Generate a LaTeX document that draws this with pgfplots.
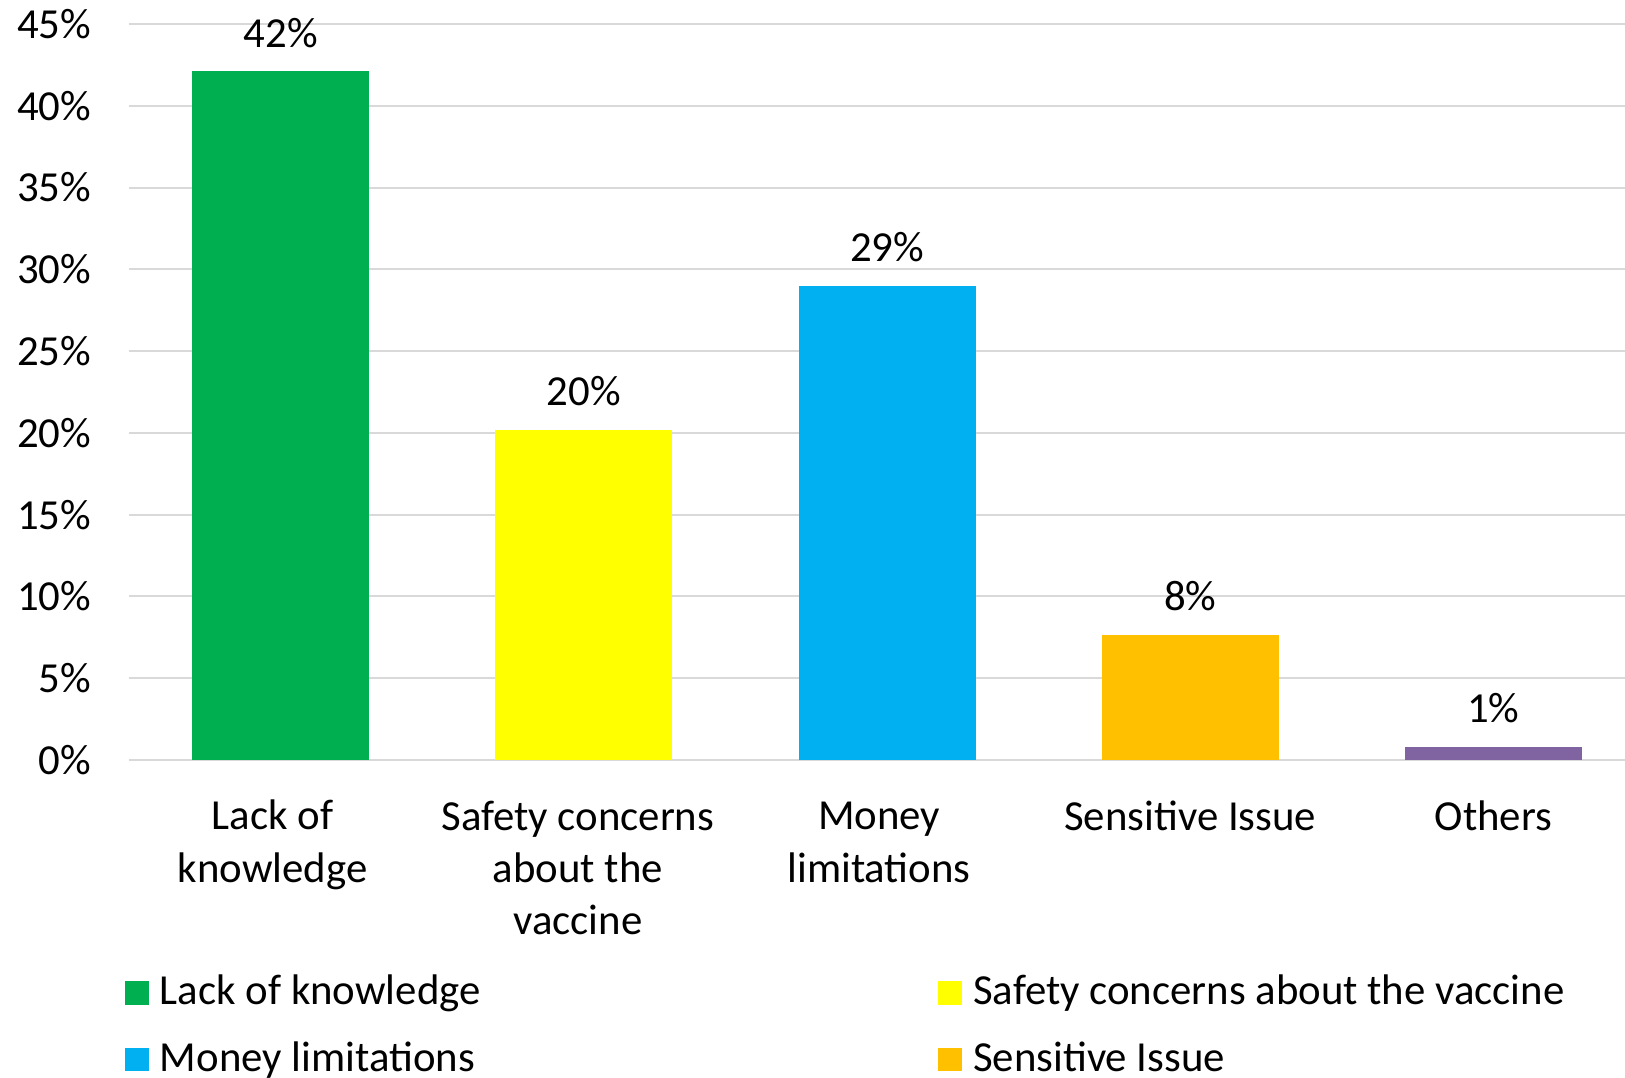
\documentclass[border=0pt]{standalone}
\usepackage{fontspec}
\setmainfont{Carlito}
\usepackage{pgfplots}
\pgfplotsset{compat=1.18}
\definecolor{cgreen}{HTML}{00B050}
\definecolor{cyellow}{HTML}{FFFF00}
\definecolor{cblue}{HTML}{00B0F0}
\definecolor{corange}{HTML}{FFC000}
\definecolor{cpurple}{HTML}{8064A2}
\definecolor{gridgray}{HTML}{D9D9D9}
\newcommand{\cf}{\fontsize{10.7}{13}\selectfont}
\begin{document}
\begin{tikzpicture}
\clip (-32.25pt,-79.5pt) rectangle (374pt,190pt);
\begin{axis}[
  scale only axis, width=374pt, height=184pt,
  xmin=-0.5, xmax=4.434, ymin=0, ymax=45,
  ybar, bar width=44.25pt,
  axis line style={draw=none},
  major tick length=0pt,
  ytick={0,5,...,45},
  yticklabels={0\%,5\%,10\%,15\%,20\%,25\%,30\%,35\%,40\%,45\%},
  xtick={0,1,2,3,4},
  xticklabels={{\strut Lack of\kern4pt\\knowledge\kern4pt},{\strut Safety concerns\kern3pt\\about the\kern3pt\\vaccine\kern3pt},{\strut Money\kern4pt\\limitations\kern4pt},{\strut Sensitive Issue},{\strut Others}},
  ymajorgrids, major grid style={color=gridgray, line width=0.5pt},
  yticklabel style={font=\cf, anchor=east, inner sep=0pt, xshift=-9.25pt},
  xticklabel style={font=\cf, anchor=north, inner sep=0pt, yshift=-8.2pt, align=center},
  nodes near coords, point meta=explicit symbolic,
  every node near coord/.append style={font=\cf, inner sep=0pt, yshift=5.7pt},
  legend columns=2,
  legend cell align=left,
  legend style={draw=none, fill=none, at={(axis description cs:0,0)}, anchor=north west, xshift=-1.25pt, yshift=-53.6pt, font=\cf, inner sep=0pt, column sep=0pt, row sep=7.7pt, nodes={inner sep=0pt}},
  legend image code/.code={\fill[#1] (0pt,-2.9pt) rectangle (6pt,2.9pt); \path (8.8pt,0pt);},
]
\addplot[fill=cgreen, draw=none, bar shift=0pt] coordinates {(0,42.1) [42\%]};
\addlegendentry{\makebox[194.5pt][l]{Lack of knowledge}}
\addplot[fill=cyellow, draw=none, bar shift=0pt] coordinates {(1,20.2) [20\%]};
\addlegendentry{Safety concerns about the vaccine}
\addplot[fill=cblue, draw=none, bar shift=0pt] coordinates {(2,29.0) [29\%]};
\addlegendentry{\makebox[194.5pt][l]{Money limitations}}
\addplot[fill=corange, draw=none, bar shift=0pt] coordinates {(3,7.65) [8\%]};
\addlegendentry{Sensitive Issue}
\addplot[fill=cpurple, draw=none, bar shift=0pt] coordinates {(4,0.8) [1\%]};
\addlegendentry{\makebox[194.5pt][l]{Others}}
\end{axis}
\end{tikzpicture}
\end{document}
